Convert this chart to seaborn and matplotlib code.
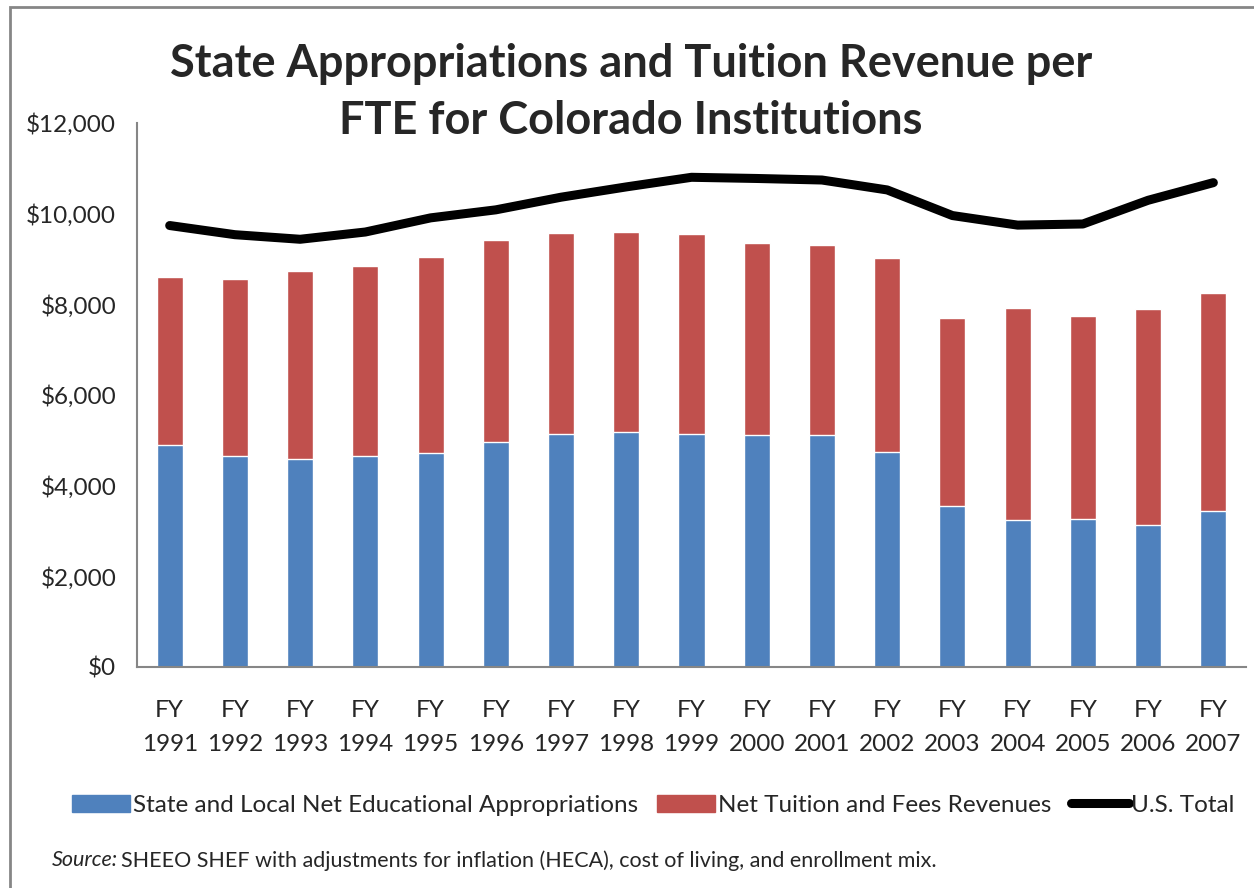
import numpy as np
import pandas as pd
import matplotlib
matplotlib.use('Agg')
import matplotlib.pyplot as plt
import seaborn as sns
from matplotlib.patches import Patch, Rectangle
from matplotlib.lines import Line2D

# data
years = ['FY\n1991', 'FY\n1992', 'FY\n1993', 'FY\n1994', 'FY\n1995', 'FY\n1996',
         'FY\n1997', 'FY\n1998', 'FY\n1999', 'FY\n2000', 'FY\n2001', 'FY\n2002',
         'FY\n2003', 'FY\n2004', 'FY\n2005', 'FY\n2006', 'FY\n2007']
state_local = [4895, 4650, 4582, 4650, 4717, 4962, 5131, 5173, 5131, 5114,
               5114, 4751, 3553, 3232, 3274, 3131, 3443]
tuition = [3704, 3907, 4144, 4202, 4321, 4456, 4439, 4430, 4413, 4236,
           4202, 4279, 4143, 4692, 4473, 4759, 4810]
us_total = [9738, 9536, 9435, 9595, 9907, 10084, 10363, 10590, 10802, 10776,
            10742, 10523, 9958, 9747, 9772, 10295, 10684]

blue = '#4F81BD'
red = '#C0504D'
grey = '#868686'

df = pd.DataFrame({'year': years, 'state': state_local, 'tuition': tuition})
df['total'] = df['state'] + df['tuition']

sns.set_style('white')
plt.rcParams['font.family'] = ['Lato', 'DejaVu Sans']

fig = plt.figure(figsize=(12.54, 8.88), dpi=100)
ax = fig.add_axes([0.1093, 0.2489, 0.8843, 0.6126])

# stacked bars: totals in red, state part in blue over them
sns.barplot(data=df, x='year', y='total', color=red, saturation=1, width=0.4, ax=ax)
sns.barplot(data=df, x='year', y='state', color=blue, saturation=1, width=0.4, ax=ax)
sns.lineplot(x=np.arange(len(years)), y=us_total, color='black', linewidth=6.5,
             solid_capstyle='round', ax=ax)

ax.set_xlim(-0.5, len(years) - 0.5)
ax.set_ylim(0, 12000)
ax.set_yticks(range(0, 12001, 2000))
ax.set_yticklabels(['${:,}'.format(v) for v in range(0, 12001, 2000)], fontsize=17.5)
ax.set_xlabel('')
ax.set_ylabel('')
ax.tick_params(axis='x', which='major', length=0, labelsize=17.5, pad=24)
ax.set_xticks(np.arange(-0.5, len(years), 1), minor=True)
ax.tick_params(axis='x', which='minor', length=7, color=grey, width=1.5, direction='out')
ax.tick_params(axis='y', length=7, color=grey, width=1.5, direction='out', pad=8)
for lbl in ax.get_xticklabels():
    lbl.set_linespacing(1.75)

for side in ['top', 'right']:
    ax.spines[side].set_visible(False)
for side in ['left', 'bottom']:
    ax.spines[side].set_color(grey)
    ax.spines[side].set_linewidth(1.5)

fig.text(0.503, 0.896, 'State Appropriations and Tuition Revenue per\nFTE for Colorado Institutions',
         ha='center', va='center', fontsize=32.5, fontweight='bold', linespacing=1.45)

handles = [Patch(color=blue), Patch(color=red),
           Line2D([], [], color='black', linewidth=6.5, solid_capstyle='round')]
labels = ['State and Local Net Educational Appropriations', 'Net Tuition and Fees Revenues', 'U.S. Total']
fig.legend(handles, labels, loc='center', bbox_to_anchor=(0.521, 0.093), ncol=3, frameon=False,
           fontsize=17.5, handlelength=2.4, handleheight=0.7, handletextpad=0.1, columnspacing=0.8)

src = fig.text(0.041, 0.031, 'Source:', fontsize=15.5, style='italic', va='center')
fig.canvas.draw()
bb = src.get_window_extent()
fig.text(bb.x1 / fig.bbox.width + 0.003, 0.031,
         'SHEEO SHEF with adjustments for inflation (HECA), cost of living, and enrollment mix.',
         fontsize=15.5, va='center')

# outer frame of the figure box
fig.add_artist(Rectangle((10 / 1254, -0.05), 1.1, 0.05 + 1 - 7 / 888, transform=fig.transFigure,
                         fill=False, edgecolor=grey, linewidth=2))

fig.savefig('out.png', dpi=100)
